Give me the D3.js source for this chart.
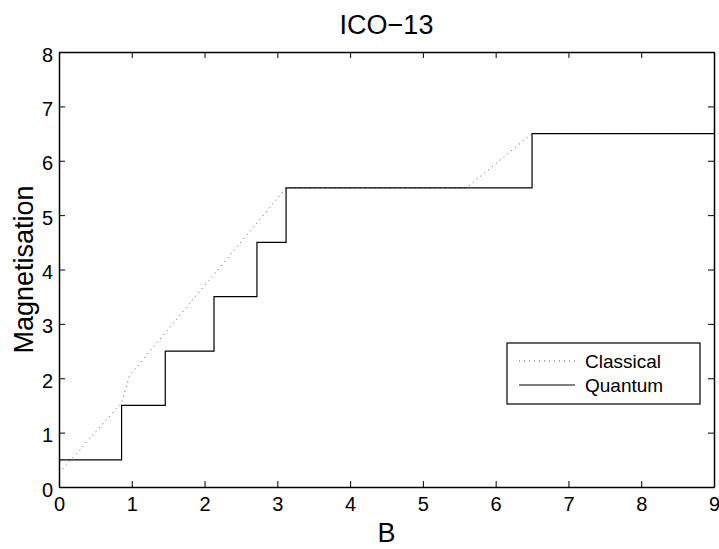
<!DOCTYPE html>
<html>
<head>
<meta charset="utf-8">
<script src="https://cdn.jsdelivr.net/npm/d3@7"></script>
<style>
    body { margin: 0; background: #fff; }
    svg { font-family: "Liberation Sans", Arial, sans-serif; }
</style>
</head>
<body>
<div id="chart"></div>
<script>
// classical curve (dotted)
var classicalB = [0.05, 0.86, 0.97, 3.12, 5.6, 6.5, 9];
var classicalM = [0.33, 1.55, 2.05, 5.5, 5.5, 6.5, 6.5];

// quantum staircase: field where each plateau ends, and its value
var quantumSteps = [0.86, 1.46, 2.13, 2.72, 3.12, 6.5, 9];
var quantumM = [0.5, 1.5, 2.5, 3.5, 4.5, 5.5, 6.5];

var xTicks = [0, 1, 2, 3, 4, 5, 6, 7, 8, 9];
var yTicks = [0, 1, 2, 3, 4, 5, 6, 7, 8];

function magnetisation() {

    var w = 719, h = 549;
    var padLeft = 59, padRight = 714, padTop = 52, padBottom = 487;

    var svg = d3.select("#chart").append("svg").attr("width", w).attr("height", h);

    var xScale = d3.scaleLinear().domain([0, 9]).range([padLeft, padRight]);
    var yScale = d3.scaleLinear().domain([0, 8]).range([padBottom, padTop]);

    // build the staircase points
    var quantum = [[0, quantumM[0]]];
    for (var i = 0; i < quantumSteps.length; i++) {
        quantum.push([quantumSteps[i], quantumM[i]]);
        if (i + 1 < quantumM.length) {
            quantum.push([quantumSteps[i], quantumM[i + 1]]);
        }
    }
    var classical = classicalB.map(function (b, i) { return [b, classicalM[i]]; });

    var line = d3.line()
        .x(function (d) { return xScale(d[0]); })
        .y(function (d) { return yScale(d[1]); });

    svg.append("path").datum(classical)
        .attr("d", line)
        .attr("fill", "none")
        .attr("stroke", "#555")
        .attr("stroke-width", 1)
        .attr("stroke-dasharray", "1,4");

    svg.append("path").datum(quantum)
        .attr("d", line)
        .attr("fill", "none")
        .attr("stroke", "#000")
        .attr("stroke-width", 1.2);

    //axes, ticks pointing inward on all four sides
    var xAxis = d3.axisBottom(xScale).tickValues(xTicks).tickSizeInner(-6).tickSizeOuter(0).tickPadding(10);
    var yAxis = d3.axisLeft(yScale).tickValues(yTicks).tickSizeInner(-6).tickSizeOuter(0).tickPadding(6);
    var xTop = d3.axisTop(xScale).tickValues(xTicks).tickSizeInner(-6).tickSizeOuter(0).tickFormat("");
    var yRight = d3.axisRight(yScale).tickValues(yTicks).tickSizeInner(-6).tickSizeOuter(0).tickFormat("");

    var gx = svg.append("g").attr("transform", "translate(0," + padBottom + ")").call(xAxis);
    var gy = svg.append("g").attr("transform", "translate(" + padLeft + ",0)").call(yAxis);
    svg.append("g").attr("transform", "translate(0," + padTop + ")").call(xTop);
    svg.append("g").attr("transform", "translate(" + padRight + ",0)").call(yRight);

    svg.selectAll(".domain").attr("stroke", "#000").attr("stroke-width", 1.5);
    svg.selectAll(".tick line").attr("stroke", "#000");
    gx.attr("font-size", 20).attr("font-family", "Liberation Sans, Arial, sans-serif");
    gy.attr("font-size", 20).attr("font-family", "Liberation Sans, Arial, sans-serif");
    gx.selectAll("text").attr("fill", "#000");
    gy.selectAll("text").attr("fill", "#000").attr("dy", "0.45em");

    // labels and title
    svg.append("text")
        .attr("x", (padLeft + padRight) / 2).attr("y", 542)
        .attr("text-anchor", "middle")
        .attr("font-size", "27px")
        .text("B");

    svg.append("text")
        .attr("transform", "translate(33," + ((padTop + padBottom) / 2) + ") rotate(-90)")
        .attr("text-anchor", "middle")
        .attr("font-size", "27px")
        .text("Magnetisation");

    svg.append("text")
        .attr("x", (padLeft + padRight) / 2).attr("y", 34)
        .attr("text-anchor", "middle")
        .attr("font-size", "27px")
        .text("ICO\u221213");

    // legend
    var lg = svg.append("g").attr("transform", "translate(507,343)");
    lg.append("rect").attr("width", 193).attr("height", 61)
        .attr("fill", "#fff").attr("stroke", "#000").attr("stroke-width", 1.2);
    var legendItems = [
        { label: "Classical", dash: "1,4", color: "#555" },
        { label: "Quantum", dash: null, color: "#000" }
    ];
    legendItems.forEach(function (d, i) {
        var yy = 18 + i * 24;
        lg.append("line").attr("x1", 12).attr("x2", 68).attr("y1", yy).attr("y2", yy)
            .attr("stroke", d.color).attr("stroke-width", 1.2)
            .attr("stroke-dasharray", d.dash);
        lg.append("text").attr("x", 78).attr("y", yy + 7)
            .attr("font-size", "19px").text(d.label);
    });
}

magnetisation();
</script>
</body>
</html>
